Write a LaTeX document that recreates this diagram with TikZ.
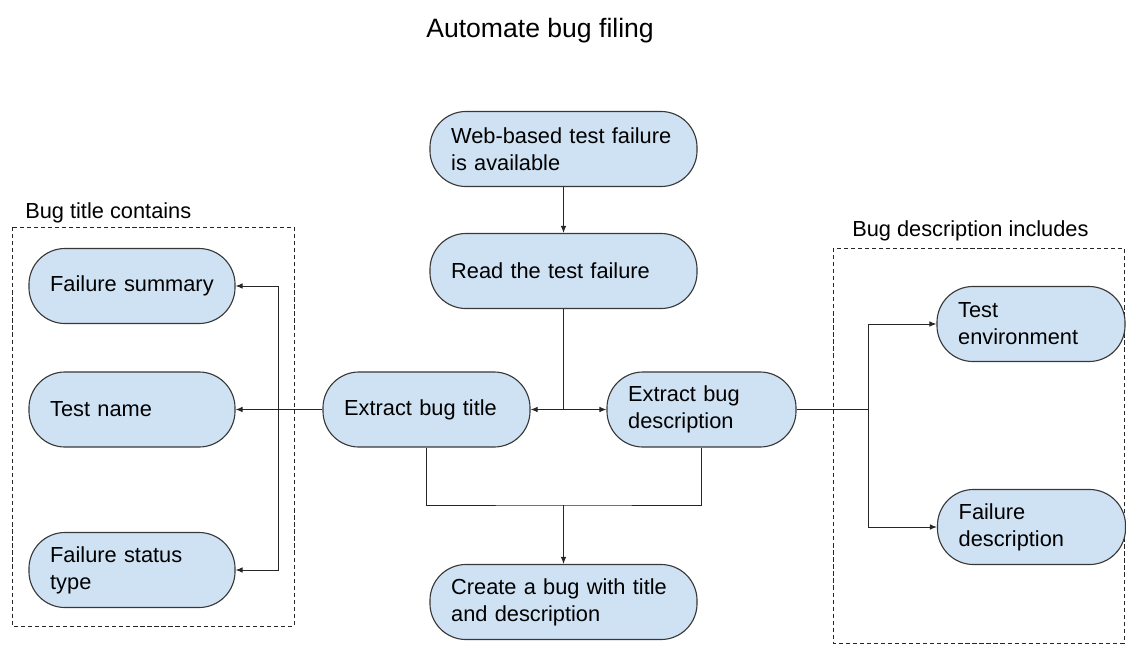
\documentclass[tikz,border=0pt]{standalone}
\usepackage{fontspec}
\setmainfont{Liberation Sans}
\usetikzlibrary{arrows.meta,positioning}
\definecolor{pillblue}{HTML}{CFE2F3}

\begin{document}
\begin{tikzpicture}[
  x=0.025cm, y=-0.025cm,
  font=\fontsize{15.5}{19.2}\selectfont,
  pill/.style={rectangle, draw=black!78, line width=0.8pt, fill=pillblue, rounded corners=0.9cm, minimum height=1.875cm, inner xsep=0.53cm, align=left},
  grp/.style={draw=black!85, dashed, dash pattern=on 3pt off 2pt, line width=0.6pt},
  lab/.style={anchor=base west, inner sep=0pt},
  arr/.style={-{Latex[length=5pt, width=4pt]}, line width=0.7pt, draw=black!85},
  ln/.style={line width=0.7pt, draw=black!85},
]
\useasboundingbox (0,0) rectangle (1126,645);

\node[lab, font=\fontsize{18.9}{22}\selectfont] (ttl) at (426,37) {Automate bug filing};

% ---------------- centre column ----------------
\node[pill, text width=5.615cm] (web)    at (563.5,149) {Web-based test failure\\is available};
\node[pill, text width=5.615cm] (read)   at (563.5,271) {Read the test failure};
\node[pill, text width=4.115cm] (title)  at (426.5,409.5) {Extract bug title};
\node[pill, text width=3.665cm] (desc)   at (701.5,409.5) {Extract bug\\description};
\node[pill, text width=5.615cm] (create) at (563.5,602) {Create a bug with title\\and description};

% ---------------- bug title group ----------------
\node[lab] (tlab) at (25,218) {Bug title contains};
\draw[grp] (12,227) rectangle (294,626);
\node[pill, text width=4.09cm] (fsum) at (132,286) {Failure summary};
\node[pill, text width=4.09cm] (tname) at (132,409.5) {Test name};
\node[pill, text width=4.09cm] (fstat) at (132,570) {Failure status\\type};

% ---------------- bug description group ----------------
\node[lab] (dlab) at (852,236) {Bug description includes};
\draw[grp] (833,248) rectangle (1124,643);
\node[pill, text width=3.64cm] (tenv)  at (1031,324) {Test\\environment};
\node[pill, text width=3.64cm] (fdesc) at (1031.5,527) {Failure\\description};

% ---------------- connectors ----------------
\coordinate (jt) at (563.5,409.5);
\coordinate (lj) at (278,409.5);
\coordinate (rj) at (868,409.5);
\coordinate (mj) at (563.5,505);

\draw[arr] (web) -- (read);
\draw[ln] (read) -- (jt);
\draw[arr] (jt) -- (title);
\draw[arr] (jt) -- (desc);

\draw[arr] (title) -- (tname);
\draw[arr] (lj) |- (fsum);
\draw[arr] (lj) |- (fstat);

\draw[ln] (desc) -- (rj);
\draw[arr] (rj) |- (tenv);
\draw[arr] (rj) |- (fdesc);

\draw[ln] (title.south) |- (mj) -| (desc.south);
\draw[arr] (mj) -- (create);
\end{tikzpicture}
\end{document}
